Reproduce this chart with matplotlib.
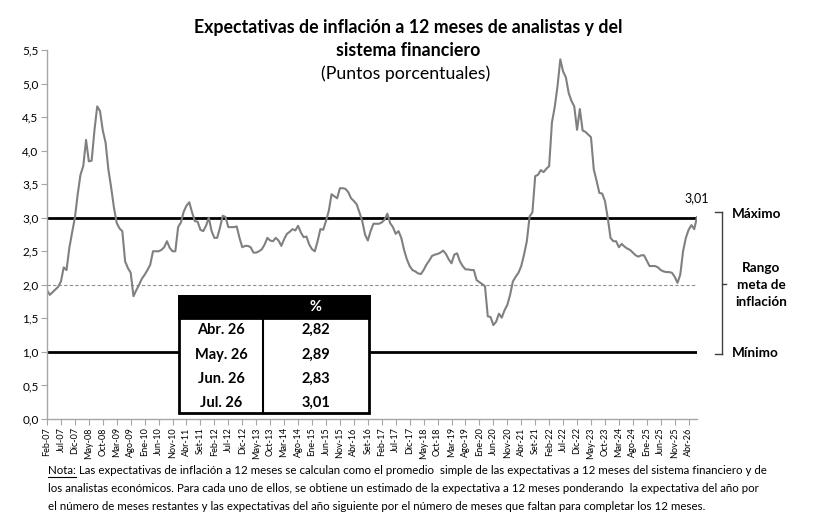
import matplotlib
matplotlib.use("Agg")
import matplotlib.pyplot as plt
from matplotlib.patches import Rectangle
from matplotlib.lines import Line2D
import numpy as np

W, H = 824, 520
FONT = "Lato"

meses = ["Ene", "Feb", "Mar", "Abr", "May", "Jun", "Jul", "Ago", "Set", "Oct", "Nov", "Dic"]

# expectativas a 12 meses (%), Feb-07 .. Jul-26
exp_2007 = [1.92, 1.85, 1.89, 1.93, 1.97, 2.05, 2.26, 2.22, 2.55, 2.78, 3.00]
exp_2008 = [3.35, 3.64, 3.77, 4.16, 3.84, 3.85, 4.30, 4.66, 4.59, 4.30, 4.12, 3.72]
exp_2009 = [3.45, 3.15, 2.92, 2.84, 2.80, 2.35, 2.25, 2.18, 1.83, 1.92, 2.00, 2.09]
exp_2010 = [2.15, 2.22, 2.30, 2.50, 2.50, 2.50, 2.52, 2.56, 2.65, 2.55, 2.50, 2.50]
exp_2011 = [2.86, 2.93, 3.09, 3.18, 3.23, 3.08, 2.95, 2.94, 2.82, 2.80, 2.88, 3.00]
exp_2012 = [2.80, 2.70, 2.70, 2.85, 3.03, 3.01, 2.86, 2.86, 2.86, 2.87, 2.70, 2.56]
exp_2013 = [2.58, 2.58, 2.56, 2.48, 2.48, 2.50, 2.53, 2.60, 2.70, 2.66, 2.65, 2.70]
exp_2014 = [2.66, 2.58, 2.68, 2.76, 2.79, 2.83, 2.81, 2.88, 2.78, 2.71, 2.72, 2.60]
exp_2015 = [2.53, 2.50, 2.65, 2.83, 2.82, 2.95, 3.10, 3.35, 3.32, 3.29, 3.44, 3.44]
exp_2016 = [3.43, 3.38, 3.29, 3.25, 3.20, 3.08, 2.95, 2.75, 2.66, 2.80, 2.91, 2.91]
exp_2017 = [2.91, 2.93, 2.97, 3.06, 2.92, 2.86, 2.76, 2.80, 2.70, 2.52, 2.38, 2.28]
exp_2018 = [2.22, 2.20, 2.17, 2.16, 2.22, 2.30, 2.36, 2.43, 2.45, 2.46, 2.48, 2.51]
exp_2019 = [2.46, 2.38, 2.32, 2.45, 2.47, 2.35, 2.28, 2.23, 2.23, 2.22, 2.22, 2.07]
exp_2020 = [2.04, 2.01, 1.98, 1.53, 1.52, 1.40, 1.45, 1.57, 1.51, 1.62, 1.70, 1.85]
exp_2021 = [2.05, 2.12, 2.18, 2.28, 2.45, 2.65, 3.02, 3.08, 3.62, 3.64, 3.71, 3.68]
exp_2022 = [3.73, 3.77, 4.42, 4.65, 4.96, 5.36, 5.18, 5.09, 4.86, 4.74, 4.66, 4.31]
exp_2023 = [4.62, 4.30, 4.28, 4.24, 4.20, 3.72, 3.55, 3.37, 3.36, 3.25, 3.00, 2.70]
exp_2024 = [2.65, 2.65, 2.56, 2.61, 2.57, 2.54, 2.52, 2.48, 2.44, 2.42, 2.44, 2.44]
exp_2025 = [2.36, 2.28, 2.28, 2.28, 2.26, 2.22, 2.20, 2.19, 2.19, 2.18, 2.12, 2.03]
exp_2026 = [2.15, 2.50, 2.70, 2.82, 2.89, 2.83, 3.01]

expectativas = (exp_2007 + exp_2008 + exp_2009 + exp_2010 + exp_2011 + exp_2012 +
                exp_2013 + exp_2014 + exp_2015 + exp_2016 + exp_2017 + exp_2018 +
                exp_2019 + exp_2020 + exp_2021 + exp_2022 + exp_2023 + exp_2024 +
                exp_2025 + exp_2026)
n = len(expectativas)

fechas = []
for k in range(n):
    m = (1 + k) % 12
    a = 7 + (1 + k) // 12
    fechas.append(f"{meses[m]}-{a:02d}")

rango_max = 3.0
rango_min = 1.0
meta = 2.0

tabla_meses = ["Abr. 26", "May. 26", "Jun. 26", "Jul. 26"]
tabla_valores = expectativas[-4:]


def coma(v, d):
    return f"{v:.{d}f}".replace(".", ",")


def fx(x):
    return x / W


def fy(y):
    return 1 - y / H


fig = plt.figure(figsize=(W / 100, H / 100), dpi=100)
ax = fig.add_axes([fx(47), fy(419), 650 / W, 369 / H])

ax.plot([0, n - 1], [meta, meta], color="#909090", lw=0.8, ls=(0, (3, 2)))
ax.plot([0, n - 1], [rango_max, rango_max], color="black", lw=2)
ax.plot([0, n - 1], [rango_min, rango_min], color="black", lw=2)
ax.plot(range(n), expectativas, color="#808080", lw=1.5)

ax.set_xlim(0, n - 1)
ax.set_ylim(0, 5.5)
for s in ["top", "right"]:
    ax.spines[s].set_visible(False)
for s in ["left", "bottom"]:
    ax.spines[s].set_color("#a6a6a6")
    ax.spines[s].set_linewidth(1)

yt = np.arange(0, 5.51, 0.5)
ax.set_yticks(yt)
ax.set_yticklabels([coma(v, 1) for v in yt], fontsize=8.5, family=FONT)
pos = list(range(0, n, 5))
ax.set_xticks(pos)
ax.set_xticklabels([fechas[p] for p in pos], rotation=90, fontsize=6.5, family=FONT)
ax.tick_params(axis="both", color="#a6a6a6", length=4, pad=2)

ax.annotate(coma(expectativas[-1], 2), xy=(n - 1, expectativas[-1]), xytext=(0, 9),
            textcoords="offset points", ha="center", va="bottom", fontsize=9, family=FONT)

# titulo
fig.text(fx(408), fy(28), "Expectativas de inflación a 12 meses de analistas y del",
         ha="center", va="center", fontsize=12.8, weight="bold", family=FONT)
fig.text(fx(408), fy(51), "sistema financiero",
         ha="center", va="center", fontsize=12.8, weight="bold", family=FONT)
fig.text(fx(406), fy(74), "(Puntos porcentuales)",
         ha="center", va="center", fontsize=12.8, family=FONT)

# rango meta
fig.text(fx(732), fy(214), "Máximo", ha="left", va="center", fontsize=9.7, weight="bold", family=FONT)
fig.text(fx(732), fy(353), "Mínimo", ha="left", va="center", fontsize=9.7, weight="bold", family=FONT)
fig.text(fx(761), fy(285), "Rango\nmeta de\ninflación", ha="center", va="center",
         fontsize=9.7, weight="bold", family=FONT, linespacing=1.45)
bx = 722
for xs, ys in [([bx, bx], [212, 354]), ([715, bx], [212, 212]), ([715, bx], [354, 354]),
               ([bx, 726], [284, 284])]:
    fig.add_artist(Line2D([fx(v) for v in xs], [fy(v) for v in ys], color="#404040", lw=1))

# tabla
tx0, tx1, tdiv = 179, 369, 263
ty0, ty1, th = 296, 413, 22
fig.add_artist(Rectangle((fx(tx0), fy(ty1)), (tx1 - tx0) / W, (ty1 - ty0) / H,
                         transform=fig.transFigure, facecolor="white", edgecolor="none", zorder=5))
fig.add_artist(Rectangle((fx(tx0), fy(ty0 + th)), (tx1 - tx0) / W, th / H,
                         transform=fig.transFigure, facecolor="black", edgecolor="black", lw=2, zorder=6))
fig.add_artist(Rectangle((fx(tx0), fy(ty1)), (tx1 - tx0) / W, (ty1 - ty0) / H,
                         transform=fig.transFigure, facecolor="none", edgecolor="black", lw=2, zorder=7))
fig.add_artist(Line2D([fx(tdiv), fx(tdiv)], [fy(ty0), fy(ty1)], color="black", lw=1.5, zorder=7))
fig.text(fx((tdiv + tx1) / 2), fy(ty0 + th / 2), "%", ha="center", va="center",
         color="white", fontsize=10.5, weight="bold", family=FONT, zorder=8)
row_y = [330, 355, 379, 403]
for lab, val, yy in zip(tabla_meses, tabla_valores, row_y):
    fig.text(fx((tx0 + tdiv) / 2), fy(yy), lab, ha="center", va="center",
             fontsize=10.5, weight="bold", family=FONT, zorder=8)
    fig.text(fx((tdiv + tx1) / 2), fy(yy), coma(val, 2), ha="center", va="center",
             fontsize=10.5, weight="bold", family=FONT, zorder=8)

# nota
nota1 = (" Las expectativas de inflación a 12 meses se calculan como el promedio  simple de las "
         "expectativas a 12 meses del sistema financiero y de")
nota2 = ("los analistas económicos. Para cada uno de ellos, se obtiene un estimado de la expectativa "
         "a 12 meses ponderando  la expectativa del año por")
nota3 = ("el número de meses restantes y las expectativas del año siguiente por el número de meses "
         "que faltan para completar los 12 meses.")
t_nota = fig.text(fx(48), fy(471), "Nota:", ha="left", va="center", fontsize=8.3, family=FONT)
fig.canvas.draw()
bb = t_nota.get_window_extent()
fig.add_artist(Line2D([bb.x0 / W, bb.x1 / W], [bb.y0 / H - 0.001, bb.y0 / H - 0.001],
                      color="black", lw=0.8))
fig.text(bb.x1 / W, fy(471), nota1, ha="left", va="center", fontsize=8.3, family=FONT)
fig.text(fx(48), fy(489), nota2, ha="left", va="center", fontsize=8.3, family=FONT)
fig.text(fx(48), fy(506), nota3, ha="left", va="center", fontsize=8.3, family=FONT)

fig.savefig("out.png", dpi=100)
